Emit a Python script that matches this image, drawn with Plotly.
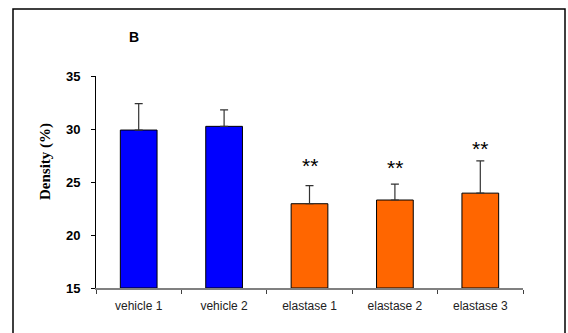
import plotly.graph_objects as go

categories = ["vehicle 1", "vehicle 2", "elastase 1", "elastase 2", "elastase 3"]
density = [29.9, 30.25, 22.95, 23.3, 23.95]
err_plus = [2.5, 1.55, 1.7, 1.5, 3.05]
bar_colors = ["#0000FF", "#0000FF", "#FF6600", "#FF6600", "#FF6600"]
star_labels = ["", "", "**", "**", "**"]
star_y = [None, None, 26.9, 26.7, 28.5]

W, H = 568, 333
L, R, T, B = 96, 45, 76, 45
pw, ph = W - L - R, H - T - B

def px_x(px):
    return (px - L) / pw

def px_y(py):
    return (H - B - py) / ph

fig = go.Figure()
fig.add_trace(go.Bar(
    x=categories, y=[d - 15 for d in density], base=15,
    marker=dict(color=bar_colors, line=dict(color="#000000", width=1)),
    width=0.43,
    error_y=dict(type="data", array=err_plus, arrayminus=[0]*5, symmetric=False,
                 color="#333333", thickness=1.2, width=4),
    showlegend=False,
))

for c, s, yy in zip(categories, star_labels, star_y):
    if s:
        fig.add_annotation(x=c, y=yy, text=s, showarrow=False,
                           font=dict(family="Arial, Liberation Sans", size=21, color="#000000"),
                           xanchor="center", yanchor="middle", yshift=-4)

fig.add_annotation(xref="paper", yref="paper", x=px_x(134), y=px_y(37), text="<b>B</b>",
                   showarrow=False, xanchor="center", yanchor="middle",
                   font=dict(family="Arial, Liberation Sans", size=14, color="#000000"))

fig.add_annotation(xref="paper", yref="paper", x=px_x(45), y=px_y(162), text="<b>Density (%)</b>",
                   showarrow=False, xanchor="center", yanchor="middle", textangle=-90,
                   font=dict(family="Times New Roman, Liberation Serif", size=15, color="#000000"))

fig.add_shape(type="rect", xref="paper", yref="paper",
              x0=px_x(13), x1=px_x(565), y0=px_y(345), y1=px_y(9),
              line=dict(color="#000000", width=1.5), layer="below")

fig.update_layout(
    width=W, height=H,
    margin=dict(l=L, r=R, t=T, b=B, pad=0),
    paper_bgcolor="white", plot_bgcolor="white",
    bargap=0.57,
    xaxis=dict(showline=True, linecolor="#808080", linewidth=1.5, ticks="outside",
               tickson="boundaries", ticklen=4, tickcolor="#404040", tickwidth=1,
               tickfont=dict(family="Arial, Liberation Sans", size=12, color="#222222"),
               ticklabelstandoff=6,
               showgrid=False, zeroline=False),
    yaxis=dict(range=[15, 35], tickvals=[15, 20, 25, 30, 35], ticktext=["<b>15</b>", "<b>20</b>", "<b>25</b>", "<b>30</b>", "<b>35</b>"],
               showline=True,
               linecolor="#000000", linewidth=1, ticks="outside", ticklen=4,
               tickcolor="#000000", showgrid=False, zeroline=False,
               tickfont=dict(family="Arial, Liberation Sans", size=13, color="#000000"),
               ticklabelstandoff=8),
)

fig.write_html("out.html", config={"displayModeBar": False},
               post_script="document.body.style.margin='0';document.body.style.overflow='hidden';")
